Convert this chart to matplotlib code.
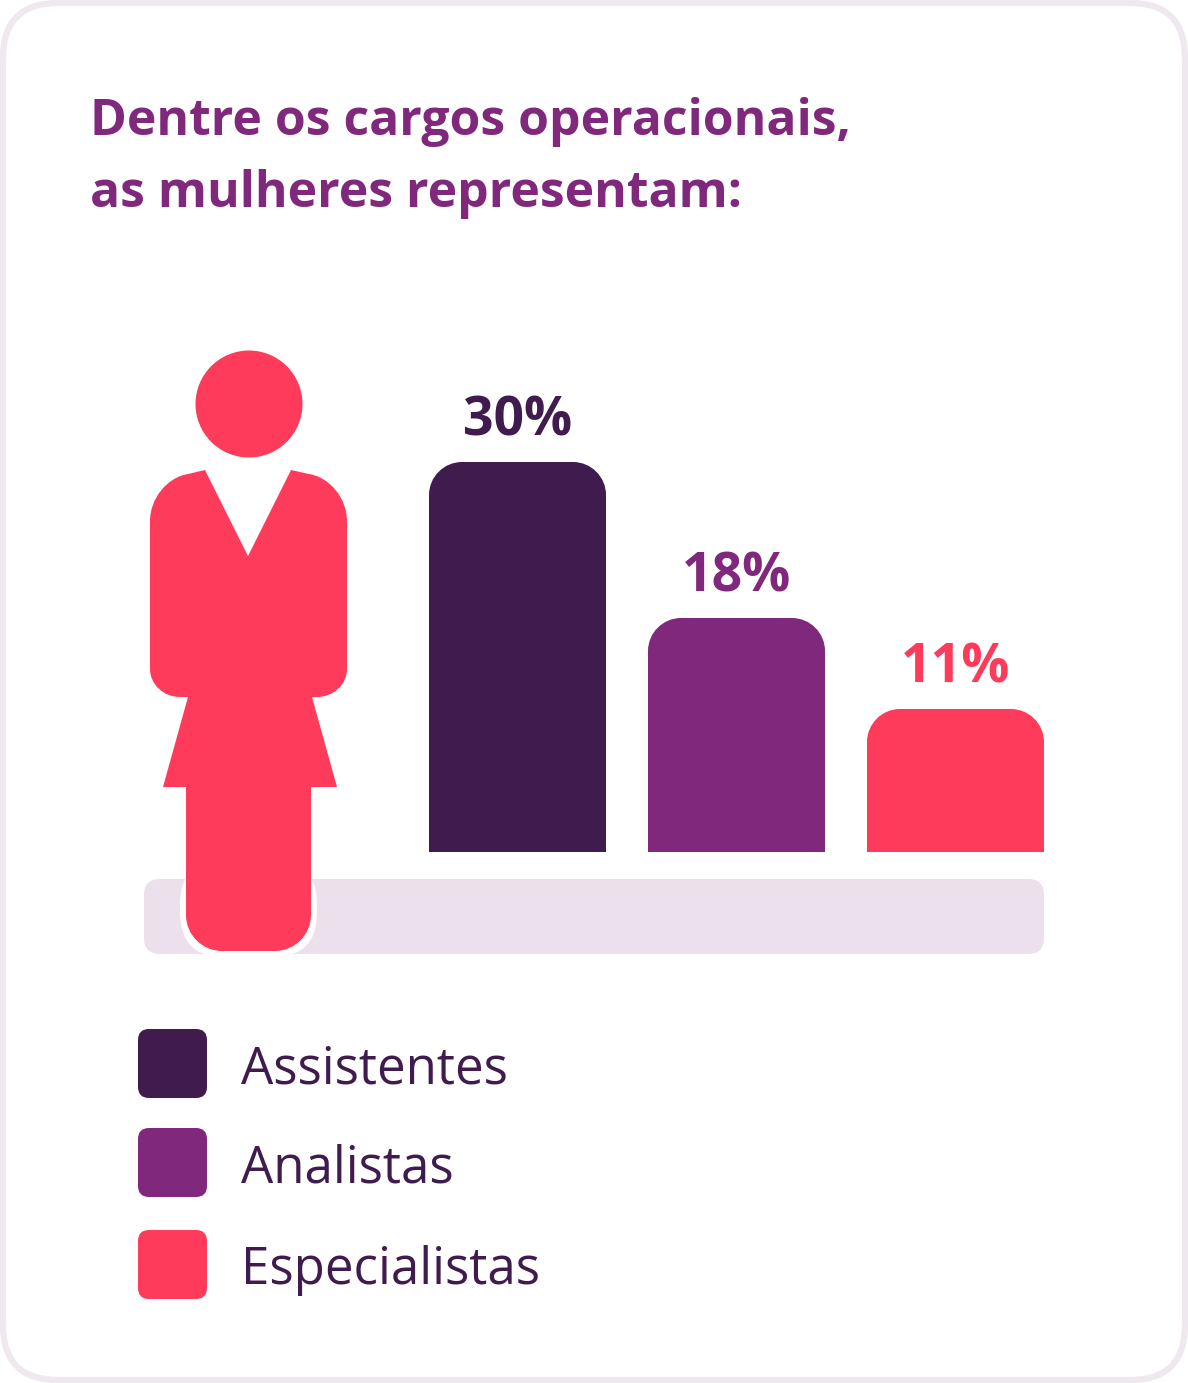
import matplotlib
matplotlib.use('Agg')
import matplotlib.pyplot as plt
from matplotlib.patches import FancyBboxPatch, Circle, PathPatch, Rectangle
from matplotlib.path import Path

categories = ['Assistentes', 'Analistas', 'Especialistas']
values = [30, 18, 11]
colors = ['#401C4E', '#80287B', '#FF3B5B']

W, H = 1188, 1383
plt.rcParams['font.family'] = ['Open Sans', 'DejaVu Sans']

fig = plt.figure(figsize=(W / 100, H / 100), dpi=100, facecolor='white')
bg = fig.add_axes([0, 0, 1, 1])
bg.set_xlim(0, W)
bg.set_ylim(H, 0)
bg.axis('off')

M, L, C4 = Path.MOVETO, Path.LINETO, Path.CURVE4


def rbox(x0, y0, x1, y1, r, **kw):
    return FancyBboxPatch((x0 + r, y0 + r), x1 - x0 - 2 * r, y1 - y0 - 2 * r,
                          boxstyle=f'round,pad={r},rounding_size={r}', **kw)


def corner(verts, codes, ctrl, end):
    # round corner from the last vertex to end, bending around ctrl
    k = 0.55
    a = verts[-1]
    verts += [(a[0] + k * (ctrl[0] - a[0]), a[1] + k * (ctrl[1] - a[1])),
              (end[0] + k * (ctrl[0] - end[0]), end[1] + k * (ctrl[1] - end[1])),
              end]
    codes += [C4, C4, C4]


# card and title
bg.add_patch(rbox(3, 3, 1185, 1380, 55, fc='white', ec='#EFE8EE', lw=4.5))
bg.text(90, 122, 'Dentre os cargos operacionais,', color=colors[1], fontsize=35.9,
        fontweight='bold', va='center', ha='left')
bg.text(90, 194, 'as mulheres representam:', color=colors[1], fontsize=35.9,
        fontweight='bold', va='center', ha='left')

# base strip
bg.add_patch(rbox(144, 879, 1044, 954, 16, fc='#ECE0EC', ec='none'))

# woman icon
red = colors[2]
bg.add_patch(Circle((249, 404), 53.5, fc=red, ec='none'))
v = [(205, 470), (248, 556), (291, 470), (309, 474)]
c = [M, L, L, L]
corner(v, c, (347, 480), (347, 521))
v.append((347, 669)); c.append(L)
corner(v, c, (347, 697), (317, 697))
v += [(312, 697), (337, 787), (311, 787), (311, 915)]; c += [L, L, L, L]
corner(v, c, (311, 951), (275, 951))
v.append((222, 951)); c.append(L)
corner(v, c, (186, 951), (186, 915))
v += [(186, 787), (163, 787), (188, 697), (180, 697)]; c += [L, L, L, L]
corner(v, c, (150, 697), (150, 669))
v.append((150, 521)); c.append(L)
corner(v, c, (150, 480), (188, 474))
v.append((205, 470)); c.append(L)
# white halo around the leg where it crosses the strip
bg.add_patch(rbox(180, 860, 317, 957, 44, fc='white', ec='none'))
bg.add_patch(Rectangle((180, 850), 137, 29, fc='white', ec='none'))
bg.add_patch(PathPatch(Path(v, c), fc=red, ec='none'))

# bars, on their own axis so heights come from the data
baseline, top = 852, 462
ax = fig.add_axes([0, 1 - baseline / H, 1, (baseline - top) / H])
ax.set_xlim(0, W)
ax.set_ylim(0, 30)
ax.axis('off')
ax.patch.set_alpha(0)
xs = [429, 648, 867]
bw = 177
scale = (baseline - top) / 30
r = 33
for x, val, col in zip(xs, values, colors):
    bv = [(x, 0), (x, val - r / scale)]
    bc = [M, L]
    corner(bv, bc, (x, val), (x + r, val))
    bv.append((x + bw - r, val)); bc.append(L)
    corner(bv, bc, (x + bw, val), (x + bw, val - r / scale))
    bv += [(x + bw, 0), (x, 0)]; bc += [L, Path.CLOSEPOLY]
    ax.add_patch(PathPatch(Path(bv, bc), fc=col, ec='none'))
    ax.annotate(f'{val}%', (x + bw / 2, val), xytext=(0, 19), textcoords='offset points',
                ha='center', va='baseline', color=col, fontsize=38.5, fontweight='bold',
                annotation_clip=False)

# legend
leg_y = [1064, 1163, 1265]
for y, name, col in zip(leg_y, categories, colors):
    bg.add_patch(rbox(138, y - 35, 207, y + 34, 11, fc=col, ec='none'))
    bg.text(241, y + 6, name, color=colors[0], fontsize=36.7,
            va='center', ha='left')

fig.savefig('out.png', dpi=100, facecolor='white')
